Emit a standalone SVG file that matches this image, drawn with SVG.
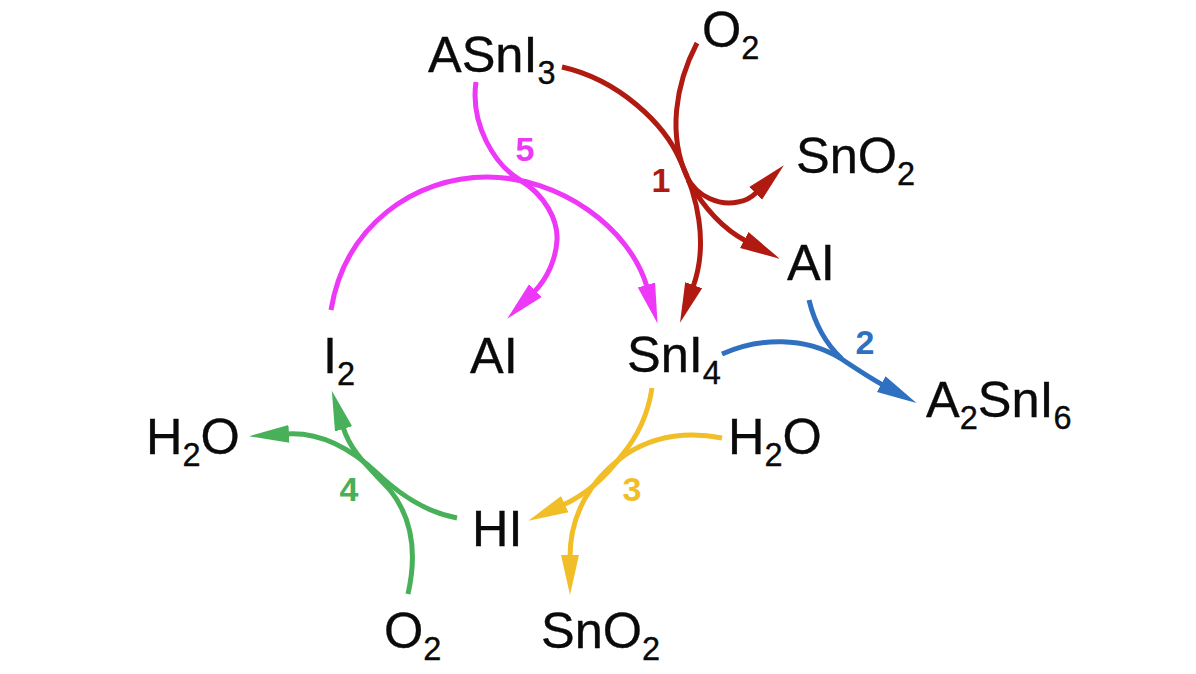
<svg xmlns="http://www.w3.org/2000/svg" width="1196" height="674" viewBox="0 0 1196 674">
<style>
.n{font-family:"Liberation Sans",Arial,sans-serif;font-size:50.5px;fill:#0a0a0a;stroke:#0a0a0a;stroke-width:.35}
.s{font-size:32.5px}
.l{font-family:"Liberation Sans",Arial,sans-serif;font-size:34px;font-weight:bold;text-anchor:middle}
.c{fill:none;stroke-width:5;stroke-linecap:butt}
.red{stroke:#b01a10;marker-end:url(#mr)}
.mag{stroke:#ee38f8;marker-end:url(#mm)}
.grn{stroke:#48b058;marker-end:url(#mg)}
.yel{stroke:#f2be28;marker-end:url(#my)}
.blu{stroke:#3070c0;marker-end:url(#mb)}
.plain{marker-end:none}
</style>
<defs>
<marker id="mr" markerUnits="userSpaceOnUse" viewBox="0 0 40 22" refX="2" refY="11" markerWidth="40" markerHeight="22" orient="auto"><path d="M0 2L40 11L0 20Z" fill="#b01a10"/></marker>
<marker id="mm" markerUnits="userSpaceOnUse" viewBox="0 0 40 22" refX="2" refY="11" markerWidth="40" markerHeight="22" orient="auto"><path d="M0 2L40 11L0 20Z" fill="#ee38f8"/></marker>
<marker id="mg" markerUnits="userSpaceOnUse" viewBox="0 0 40 22" refX="2" refY="11" markerWidth="40" markerHeight="22" orient="auto"><path d="M0 2L40 11L0 20Z" fill="#48b058"/></marker>
<marker id="my" markerUnits="userSpaceOnUse" viewBox="0 0 40 22" refX="2" refY="11" markerWidth="40" markerHeight="22" orient="auto"><path d="M0 2L40 11L0 20Z" fill="#f2be28"/></marker>
<marker id="mb" markerUnits="userSpaceOnUse" viewBox="0 0 40 22" refX="2" refY="11" markerWidth="40" markerHeight="22" orient="auto"><path d="M0 2L40 11L0 20Z" fill="#3070c0"/></marker>
</defs>
<rect width="1196" height="674" fill="#fff"/>
<g id="connectors">
<path class="c red" d="M562 67C620 80 665 125 680 160C697 195 709 243 693 287"/>
<path class="c red" d="M697 43C675 85 668 135 687 177C697 197 720 206 738 202C745 201 752 197 757 192"/>
<path class="c red" d="M688 180C705 210 725 230 746 241"/>
<path class="c mag" d="M331 310C345 225 415 177 487 177C560 177 630 228 647 287"/>
<path class="c mag" d="M476 82C470 125 495 165 520 180C545 195 558 220 557 240C556 258 548 278 534 292"/>
<path class="c grn" d="M457 518C425 512 400 495 377 473C350 448 320 432 287 434"/>
<path class="c grn" d="M408 594C418 550 410 515 390 490C370 468 351 453 343 427"/>
<path class="c yel" d="M652 388C648 415 637 437 622 455C605 478 585 495 563 505"/>
<path class="c yel" d="M722 438C690 432 655 435 625 455C590 480 570 515 570 557"/>
<path class="c blu" d="M722 354C760 337 805 337 840 358C855 368 870 378 883 385"/>
<path class="c blu plain" d="M809 300C815 325 826 344 842 359"/>
</g>
<g id="label-1"><text class="l" x="661" y="192" fill="#b01a10">1</text></g>
<g id="label-2"><text class="l" x="865" y="354" fill="#3070c0">2</text></g>
<g id="label-3"><text class="l" x="632" y="501" fill="#f2be28">3</text></g>
<g id="label-4"><text class="l" x="349" y="501" fill="#48b058">4</text></g>
<g id="label-5"><text class="l" x="525" y="161" fill="#ee38f8">5</text></g>
<g id="asni3"><text class="n" x="428" y="72">ASnI<tspan class="s" dy="12">3</tspan></text></g>
<g id="o2-top"><text class="n" x="702" y="47">O<tspan class="s" dy="12">2</tspan></text></g>
<g id="sno2-top"><text class="n" x="796" y="173">SnO<tspan class="s" dy="12">2</tspan></text></g>
<g id="ai-top"><text class="n" x="787" y="280">AI</text></g>
<g id="i2"><text class="n" x="323" y="373">I<tspan class="s" dy="12">2</tspan></text></g>
<g id="ai-mid"><text class="n" x="470" y="373">AI</text></g>
<g id="sni4"><text class="n" x="627" y="372">SnI<tspan class="s" dy="12">4</tspan></text></g>
<g id="a2sni6"><text class="n" x="926" y="417">A<tspan class="s" dy="12">2</tspan><tspan dy="-12">SnI</tspan><tspan class="s" dy="12">6</tspan></text></g>
<g id="h2o-right"><text class="n" x="728" y="454">H<tspan class="s" dy="12">2</tspan><tspan dy="-12">O</tspan></text></g>
<g id="h2o-left"><text class="n" x="146" y="454">H<tspan class="s" dy="12">2</tspan><tspan dy="-12">O</tspan></text></g>
<g id="hi"><text class="n" x="472" y="546">HI</text></g>
<g id="o2-bottom"><text class="n" x="384" y="648">O<tspan class="s" dy="12">2</tspan></text></g>
<g id="sno2-bottom"><text class="n" x="541" y="648">SnO<tspan class="s" dy="12">2</tspan></text></g>
</svg>
